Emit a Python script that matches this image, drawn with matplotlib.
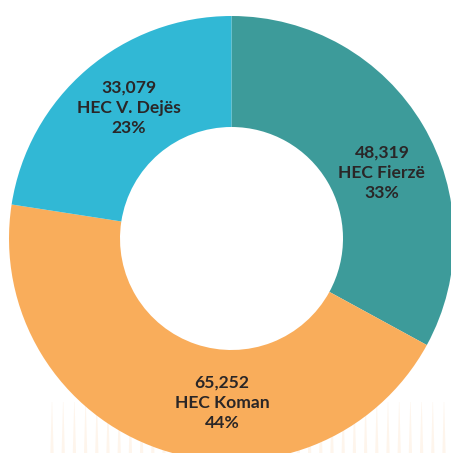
import matplotlib
matplotlib.use("Agg")
import matplotlib.pyplot as plt
from matplotlib.patches import Polygon
import numpy as np

# Data
categories = ["HEC Fierzë", "HEC Koman", "HEC V. Dejës"]
values = [48319, 65252, 33079]
value_labels = ["48,319", "65,252", "33,079"]
percent_labels = ["33%", "44%", "23%"]
colors = ["#3D9B9A", "#F9AD5B", "#31B8D5"]

W, H = 451, 453
cx, cy = 231.5, 238.5   # pixel centre of donut (from top-left)
R_out, R_in = 222.5, 111.5

fig = plt.figure(figsize=(W / 100, H / 100), dpi=100)
ax = fig.add_axes([0, 0, 1, 1])

# faint decorative stripes at the bottom
stripe_x = np.arange(52, 452, 11.2)
for sx in stripe_x:
    x0 = sx - cx
    top = -(402 - cy)
    bot = -(H - cy)
    poly = Polygon([[x0 - 0.2, top], [x0 + 0.2, top], [x0 + 1.6, bot], [x0 - 1.6, bot]],
                   closed=True, facecolor="#FEF5EC", edgecolor="none", zorder=0)
    ax.add_patch(poly)

wedges, _ = ax.pie(values, colors=colors, startangle=90, counterclock=False,
                   radius=R_out, wedgeprops=dict(width=R_out - R_in, linewidth=0))
for w in wedges:
    w.set_zorder(2)

# label placement (angle clockwise from top in degrees, radius in px)
label_angles = [66.5, 183.3, 321.9]
label_radius = [164.0, 164.8, 166.0]
for i in range(len(values)):
    a = np.deg2rad(label_angles[i])
    x = label_radius[i] * np.sin(a)
    y = label_radius[i] * np.cos(a)
    txt = f"{value_labels[i]}\n{categories[i]}\n{percent_labels[i]}"
    ax.text(x, y, txt, ha="center", va="center", fontsize=12.6, fontweight="bold",
            color="#2A2627", family=["Lato", "DejaVu Sans"], linespacing=1.32, zorder=3)

ax.set_xlim(-cx, W - cx)
ax.set_ylim(-(H - cy), cy)
ax.set_aspect("equal")
ax.axis("off")
fig.savefig("out.png", dpi=100, facecolor="white")
